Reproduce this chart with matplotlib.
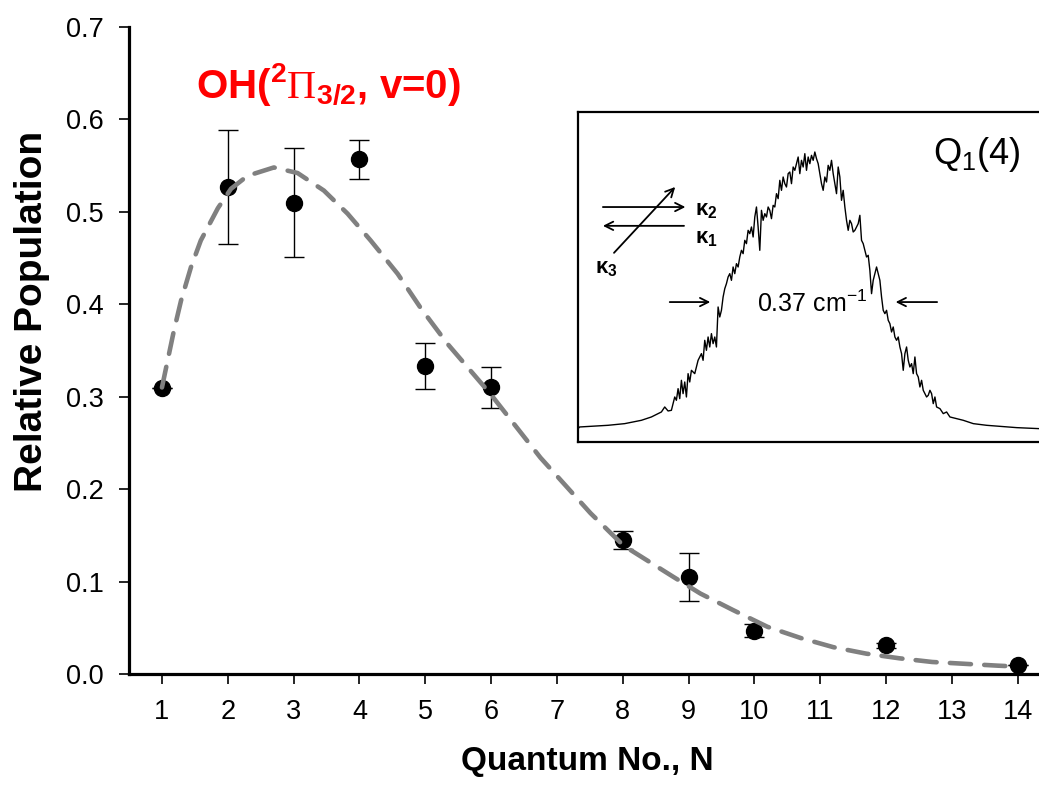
import matplotlib
matplotlib.use('Agg')
import matplotlib.pyplot as plt

plt.rcParams['font.family'] = ['Liberation Sans', 'DejaVu Sans']
plt.rcParams['mathtext.fontset'] = 'custom'
plt.rcParams['mathtext.rm'] = 'Liberation Sans:bold'
plt.rcParams['mathtext.bf'] = 'Liberation Sans:bold'
plt.rcParams['mathtext.it'] = 'Liberation Sans:bold'
plt.rcParams['mathtext.sf'] = 'Liberation Sans'
plt.rcParams['mathtext.tt'] = 'Liberation Serif'

# measured relative populations
N = [1, 2, 3, 4, 5, 6, 8, 9, 10, 12, 14]
pop = [0.309, 0.527, 0.510, 0.557, 0.333, 0.310, 0.145, 0.105, 0.047, 0.031, 0.010]
err = [0.0, 0.062, 0.059, 0.021, 0.025, 0.022, 0.010, 0.026, 0.007, 0.003, 0.0]

# Boltzmann fit
fit_N = [1.0, 1.18, 1.29, 1.44, 1.59, 1.85, 2.05, 2.3, 2.7, 3.06, 3.46, 3.82, 4.17,
         4.58, 4.93, 5.34, 5.99, 6.75, 7.51, 8.01, 8.77, 9.18, 9.68, 10.2, 10.7,
         11.2, 11.7, 12.2, 12.7, 13.2, 13.7, 14.0]
fit_pop = [0.310, 0.371, 0.404, 0.440, 0.469, 0.504, 0.525, 0.539, 0.548, 0.542,
           0.523, 0.498, 0.469, 0.433, 0.396, 0.357, 0.303, 0.234, 0.174, 0.139,
           0.105, 0.087, 0.069, 0.051, 0.039, 0.029, 0.022, 0.017, 0.013, 0.011,
           0.009, 0.008]

# inset spectrum Q1(4), arbitrary channel / signal units
chan = [25, 30, 115, 165, 215, 245, 275, 285, 295, 305, 315, 320, 325, 330, 335,
        340, 345, 350, 355, 360, 365, 375, 380, 385, 390, 395, 400, 405, 410, 415,
        420, 425, 430, 435, 440, 445, 450, 455, 460, 465, 470, 475, 480, 485, 490,
        495, 500, 505, 510, 515, 520, 525, 530, 535, 540, 545, 550, 555, 560, 565,
        570, 575, 580, 585, 590, 595, 600, 605, 610, 615, 620, 625, 630, 635, 640,
        645, 650, 655, 660, 665, 670, 675, 680, 685,
        690, 695, 700, 705, 710, 715, 720, 725, 730, 735, 740, 745, 750, 755, 760,
        765, 770, 775, 780, 785, 790, 795, 800, 805, 810, 815, 820, 825, 830, 835,
        840, 845, 850, 855, 860, 865, 870, 875, 880, 885, 890, 895, 900, 905, 910,
        915, 920, 925, 930, 935, 940, 945, 950, 955, 960, 965, 970, 975, 980, 985,
        990, 995, 1000, 1005, 1010, 1015, 1020, 1025, 1030, 1035, 1040, 1045, 1050,
        1055, 1060, 1065, 1070, 1075, 1080, 1085, 1090, 1095, 1100, 1110, 1120,
        1130, 1140, 1160, 1180, 1210, 1250, 1290, 1340, 1407]
signal = [15, 20, 25, 30, 40, 50, 65, 80, 68, 70, 110, 100, 135, 105, 160,
          120, 155, 110, 180, 155, 190, 180, 200, 220, 230, 240, 220, 280, 250, 290,
          260, 300, 270, 290, 260, 380, 350, 370, 410, 435, 450, 470, 480, 460, 500,
          480, 510, 500, 530, 550, 540, 580, 570, 610, 600, 620, 590, 650, 680, 620,
          550, 670, 640, 660, 650, 680, 670, 645, 685, 680, 720, 705, 760, 730, 770,
          750, 740, 780, 785, 750, 800, 790, 810, 830,
          780, 820, 800, 840, 790, 830, 810, 835, 820, 845, 825, 810, 780, 750, 730,
          770, 755, 805, 790, 820, 780, 750, 720, 800, 770, 700, 730, 680, 640, 610,
          640, 630, 605, 610, 620, 630, 655, 580, 570, 550, 530, 535, 490, 420, 460,
          480, 500, 480, 460, 410, 370, 360, 370, 340, 330, 305, 320, 290, 280, 290,
          260, 240, 190, 240, 260, 220, 200, 210, 180, 230, 180, 170, 140,
          160, 130, 120, 110, 115, 130, 120, 90, 110, 80, 75, 60,
          65, 50, 45, 40, 30, 25, 22, 18, 15]

fig = plt.figure(figsize=(10.39, 7.86), dpi=100)
ax = fig.add_axes([0.1242, 0.1425, 0.887, 0.8232])

ax.errorbar(N, pop, yerr=err, fmt='o', color='black', markersize=11.5,
            elinewidth=1.0, capsize=7, capthick=1.0, zorder=2)
ax.plot(fit_N, fit_pop, color='#808080', linewidth=3.3, dashes=(4.6, 2.9),
        dash_capstyle='round', zorder=3)

ax.set_xlim(0.5, 14.5)
ax.set_ylim(0, 0.7)
ax.set_xticks(range(1, 15))
ax.set_yticks([0.0, 0.1, 0.2, 0.3, 0.4, 0.5, 0.6, 0.7])
ax.set_yticklabels(['0.0', '0.1', '0.2', '0.3', '0.4', '0.5', '0.6', '0.7'])
ax.spines['top'].set_visible(False)
ax.spines['right'].set_visible(False)
ax.spines['left'].set_linewidth(2.3)
ax.spines['bottom'].set_linewidth(2.3)
ax.tick_params(axis='both', direction='out', length=7, width=1.2, labelsize=19.5)
ax.tick_params(axis='y', pad=11)
ax.tick_params(axis='x', pad=11)

ax.set_xlabel('Quantum No., N', fontsize=24, fontweight='bold')
ax.xaxis.set_label_coords(0.497, -0.112)
ax.set_ylabel('Relative Population', fontsize=28, fontweight='bold')
ax.yaxis.set_label_coords(-0.086, 0.561)

fig.text(0.1886, 0.892, r'OH($^{2}\mathtt{\Pi}_{3/2}$, v=0)', color='#ff0000',
         fontsize=29, fontweight='bold', va='center', ha='left')

# inset
ins = fig.add_axes([0.5563, 0.4377, 0.4437, 0.4198])
ins.plot(chan, signal, color='black', linewidth=1.0)
ins.set_xlim(25, 1407)
ins.set_ylim(-25, 965)
ins.set_xticks([])
ins.set_yticks([])
ins.spines['right'].set_visible(False)
for s in ['left', 'top', 'bottom']:
    ins.spines[s].set_linewidth(1.6)

arr = dict(arrowstyle='->', color='black', lw=1.3, mutation_scale=15)
ins.annotate('', xy=(0.239, 0.712), xytext=(0.048, 0.712), xycoords='axes fraction',
             arrowprops=arr)
ins.annotate('', xy=(0.048, 0.655), xytext=(0.236, 0.655), xycoords='axes fraction',
             arrowprops=arr)
ins.annotate('', xy=(0.215, 0.779), xytext=(0.074, 0.567), xycoords='axes fraction',
             arrowprops=arr)
ins.text(0.254, 0.703, 'κ$_2$', transform=ins.transAxes, fontsize=16,
         fontweight='bold', va='center')
ins.text(0.254, 0.618, 'κ$_1$', transform=ins.transAxes, fontsize=16,
         fontweight='bold', va='center')
ins.text(0.037, 0.527, 'κ$_3$', transform=ins.transAxes, fontsize=16,
         fontweight='bold', va='center')

ins.annotate('', xy=(0.293, 0.424), xytext=(0.193, 0.424), xycoords='axes fraction',
             arrowprops=arr)
ins.annotate('', xy=(0.683, 0.424), xytext=(0.785, 0.424), xycoords='axes fraction',
             arrowprops=arr)
ins.text(0.388, 0.418, r'0.37 cm$^{\mathsf{-1}}$', transform=ins.transAxes,
         fontsize=18, va='center')
ins.text(0.770, 0.870, r'Q$_{\mathsf{1}}$(4)', transform=ins.transAxes,
         fontsize=26, va='center')

fig.savefig('out.png', dpi=100)
